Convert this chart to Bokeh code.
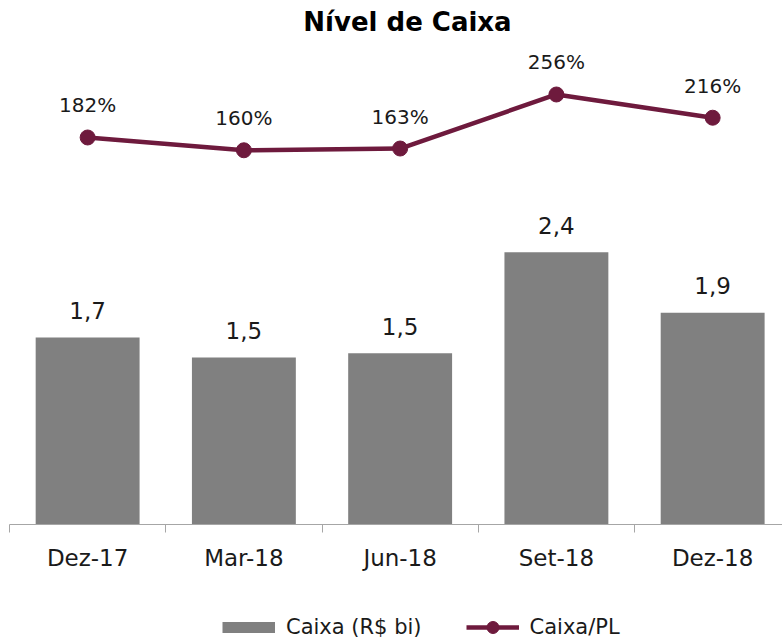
from bokeh.plotting import figure
from bokeh.models import Range1d, FixedTicker, Legend, LegendItem, Label, ColumnDataSource
from bokeh.core.properties import value
from bokeh.layouts import column
from bokeh.embed import file_html
from bokeh.resources import INLINE

# ---- data ----
categories = ["Dez-17", "Mar-18", "Jun-18", "Set-18", "Dez-18"]
caixa = [1.67, 1.49, 1.53, 2.43, 1.89]          # Caixa (R$ bi)
caixa_pl = [182, 160, 163, 256, 216]             # Caixa/PL (%)
title_text = "Nível de Caixa"
legend_labels = ["Caixa (R$ bi)", "Caixa/PL"]

xs = list(range(len(categories)))
bar_labels = [f"{v:.1f}".replace(".", ",") for v in caixa]
pct_labels = [f"{v}%" for v in caixa_pl]

BAR = "#808080"
LINE = "#6e1a3d"
TXT = "#1a1a1a"
AX = "#a6a6a6"
FONT = "DejaVu Sans"
NAN = float("nan")

p = figure(frame_width=773, frame_height=516, output_backend="svg", toolbar_location=None,
           x_range=Range1d(-0.5, 4.447), y_range=Range1d(0, 4.607),
           y_axis_location=None,
           min_border_left=9, min_border_right=0, min_border_top=8, min_border_bottom=46)
p.extra_y_ranges = {"pct": Range1d(-484.1, 404.0)}
p.outline_line_color = None
p.xgrid.visible = False
p.ygrid.visible = False

src = ColumnDataSource(dict(x=xs, caixa=caixa, pl=caixa_pl, bl=bar_labels, pctl=pct_labels))

p.vbar(x="x", top="caixa", width=0.665, source=src, fill_color=BAR, line_color=None)
p.line(x="x", y="pl", source=src, y_range_name="pct", line_color=LINE, line_width=4.5)
p.scatter(x="x", y="pl", source=src, y_range_name="pct", size=15,
          fill_color=LINE, line_color=LINE)

p.text(x="x", y="caixa", text="bl", source=src, text_align="center",
       text_baseline="alphabetic", y_offset=-27, text_font=value(FONT),
       text_font_size="23px", text_color=TXT)
p.text(x="x", y="pl", text="pctl", source=src, y_range_name="pct", text_align="center",
       text_baseline="alphabetic", y_offset=-32, text_font=value(FONT),
       text_font_size="20px", text_color=TXT)

p.add_layout(Label(x=2.047, y=381.5, y_range_name="pct", text=title_text, text_align="center",
                   text_baseline="alphabetic", text_font=FONT, text_font_style="bold",
                   text_font_size="26px", text_color="#000000"))

ax = p.xaxis[0]
ax.ticker = FixedTicker(ticks=xs, minor_ticks=[x - 0.5 for x in xs])
ax.major_label_overrides = {i: c for i, c in zip(xs, categories)}
ax.major_tick_line_color = None
ax.major_tick_in = 0
ax.major_tick_out = 0
ax.minor_tick_in = 0
ax.minor_tick_out = 8
ax.minor_tick_line_color = AX
ax.axis_line_color = AX
ax.major_label_text_font = FONT
ax.major_label_text_font_size = "23px"
ax.major_label_text_color = TXT
ax.major_label_standoff = 12

# ---- legend strip ----
lg = figure(width=782, height=70, output_backend="svg", toolbar_location=None,
            x_axis_location=None, y_axis_location=None,
            min_border_left=0, min_border_right=0, min_border_top=0, min_border_bottom=0)
lg.outline_line_color = None
lg.xgrid.visible = False
lg.ygrid.visible = False
k_bar = lg.line(x=[NAN], y=[NAN], line_color=BAR, line_width=11)
k_line = lg.line(x=[NAN], y=[NAN], line_color=LINE, line_width=4.5)
k_dot = lg.scatter(x=[NAN], y=[NAN], size=15, fill_color=LINE, line_color=LINE)
legend = Legend(items=[LegendItem(label=legend_labels[0], renderers=[k_bar]),
                       LegendItem(label=legend_labels[1], renderers=[k_line, k_dot])],
                orientation="horizontal", location=(213, 1), glyph_width=53, glyph_height=30,
                label_text_font=FONT, label_text_font_size="21px", label_text_color=TXT,
                label_standoff=11, spacing=44, padding=0, margin=0,
                border_line_color=None, background_fill_alpha=0)
lg.add_layout(legend)

open("out.html", "w").write(file_html(column(p, lg), INLINE))
